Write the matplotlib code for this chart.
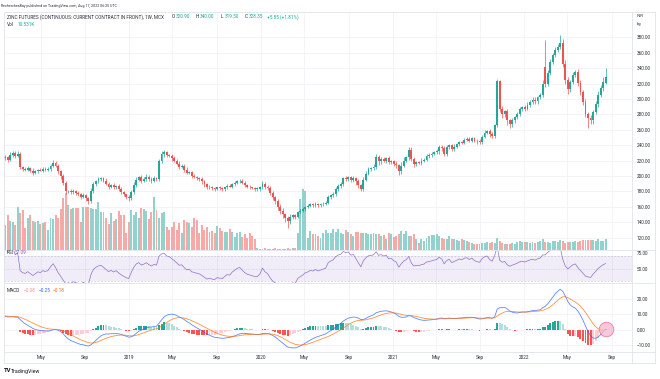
import numpy as np
import pandas as pd
import matplotlib
matplotlib.use("Agg")
import matplotlib.pyplot as plt
import matplotlib.dates as mdates
from matplotlib.lines import Line2D

plt.rcParams['font.family'] = ['Roboto', 'DejaVu Sans']

W, H = 660, 379

# weekly closes, MCX zinc continuous (INR/kg), Jan 2018 .. Aug 2022
closes = [
    224, 221, 227, 230, 226, 229, 212, 209, 208, 210,
    207, 204, 206, 208, 207, 209, 208, 209, 213, 217,
    213, 206, 200, 191, 180, 181, 179, 181, 178, 176,
    173, 175, 171, 168, 180, 189, 193, 196, 197, 194,
    190, 186, 188, 185, 187, 183, 179, 176, 173, 171,
    179, 188, 195, 198, 194, 196, 199, 196, 194, 197,
    196, 219, 228, 231, 227, 226, 223, 220, 216, 212,
    213, 208, 204, 205, 200, 199, 197, 196, 193, 189,
    185, 186, 184, 183, 185, 184, 183, 185, 187, 186,
    189, 191, 193, 194, 191, 188, 186, 185, 184, 183,
    183, 185, 190, 186, 184, 178, 172, 168, 160, 155,
    150, 146, 142, 147, 149, 147, 153, 155, 157, 160,
    161, 163, 162, 164, 162, 163, 164, 165, 172, 175,
    177, 183, 187, 189, 197, 196, 198, 195, 197, 193,
    188, 183, 195, 203, 209, 210, 212, 224, 219, 222,
    220, 223, 218, 219, 216, 214, 206, 213, 220, 224,
    234, 222, 216, 218, 217, 220, 221, 226, 227, 229,
    231, 232, 238, 236, 229, 237, 240, 235, 238, 241,
    244, 243, 247, 248, 246, 249, 246, 245, 244, 251,
    256, 258, 254, 252, 266, 323, 287, 280, 284, 272,
    267, 272, 276, 281, 287, 289, 287, 292, 296, 299,
    297, 302, 305, 320, 320, 334, 348, 357, 364, 368,
    372, 346, 324, 313, 322, 331, 335, 321, 309, 296,
    280, 275, 272, 283, 293, 305, 314, 322.5, 328.35,
]
# weeks where the open gapped away from the previous close
open_gaps = {214: 342.0, 238: 320.90}

wick_up = [
    3, 2, 4, 3, 2, 3, 2, 1, 2, 3,
    2, 3, 2, 1, 2, 2, 3, 2, 2, 4,
    3, 2, 2, 3, 2, 1, 2, 2, 1, 2,
    2, 3, 2, 2, 4, 3, 2, 3, 2, 2,
    3, 2, 2, 3, 1, 2, 2, 2, 1, 2,
    3, 4, 3, 2, 3, 2, 3, 2, 2, 3,
    2, 3, 5, 3, 2, 2, 2, 3, 2, 3,
    2, 2, 3, 2, 2, 2, 1, 2, 2, 2,
    2, 2, 1, 2, 1, 2, 2, 1, 2, 2,
    2, 3, 2, 2, 2, 2, 1, 2, 1, 1,
    2, 2, 3, 2, 2, 3, 2, 2, 2, 4,
    3, 2, 2, 3, 2, 2, 2, 2, 2, 1,
    2, 2, 2, 2, 1, 2, 2, 2, 3, 2,
    2, 3, 2, 3, 2, 3, 2, 2, 3, 2,
    3, 2, 4, 3, 2, 2, 3, 4, 3, 2,
    3, 2, 3, 2, 2, 3, 2, 5, 4, 2,
    4, 3, 2, 2, 2, 3, 2, 2, 3, 2,
    2, 3, 2, 2, 3, 3, 2, 2, 3, 2,
    2, 2, 2, 2, 2, 2, 2, 2, 3, 2,
    3, 2, 3, 3, 2, 3, 2, 4, 2, 3,
    2, 3, 2, 2, 3, 2, 3, 4, 2, 3,
    3, 2, 3, 4, 35, 3, 4, 3, 4, 3,
    11, 6, 5, 4, 3, 4, 3, 4, 3, 3,
    4, 3, 4, 3, 4, 5, 4, 6, 11.65,
]
wick_dn = [
    2, 3, 2, 2, 3, 2, 3, 2, 2, 2,
    2, 3, 2, 2, 1, 2, 2, 2, 2, 2,
    2, 3, 4, 3, 3, 2, 2, 2, 3, 2,
    3, 2, 3, 4, 3, 2, 2, 2, 3, 2,
    2, 3, 2, 2, 2, 3, 2, 2, 3, 4,
    2, 2, 3, 2, 3, 2, 2, 2, 3, 2,
    2, 2, 2, 3, 2, 2, 3, 2, 2, 3,
    2, 3, 2, 2, 3, 2, 2, 2, 3, 3,
    2, 2, 2, 2, 1, 2, 2, 2, 2, 1,
    2, 2, 2, 2, 2, 3, 2, 2, 1, 2,
    2, 2, 2, 3, 2, 3, 3, 4, 4, 5,
    5, 6, 10, 4, 3, 3, 2, 2, 2, 3,
    2, 2, 3, 2, 3, 2, 2, 2, 2, 2,
    2, 3, 2, 3, 2, 3, 2, 3, 3, 5,
    4, 3, 3, 2, 2, 3, 2, 3, 5, 3,
    2, 3, 3, 2, 3, 4, 5, 3, 2, 2,
    3, 3, 4, 3, 2, 3, 2, 2, 3, 2,
    2, 3, 3, 3, 3, 3, 2, 3, 2, 2,
    2, 2, 2, 2, 2, 2, 2, 3, 2, 2,
    2, 2, 3, 3, 3, 3, 4, 5, 4, 6,
    5, 3, 3, 2, 3, 3, 3, 2, 3, 3,
    3, 3, 2, 3, 4, 3, 3, 2, 3, 3,
    3, 4, 4, 7, 4, 3, 3, 4, 4, 4,
    4, 13, 4, 4, 3, 3, 3, 4, 1.4,
]
# volume in thousands
volume_k = [
    25, 35, 29, 28, 25, 43, 37, 40, 22, 32,
    35, 29, 28, 29, 26, 27, 28, 20, 32, 31,
    35, 32, 41, 52, 57, 45, 41, 42, 42, 42,
    28, 43, 43, 43, 42, 41, 41, 48, 38, 38,
    32, 26, 37, 29, 31, 39, 35, 35, 17, 28,
    40, 35, 38, 32, 42, 41, 39, 31, 38, 53,
    40, 32, 37, 38, 23, 20, 23, 28, 20, 27,
    17, 30, 28, 27, 23, 32, 30, 17, 25, 20,
    23, 18, 19, 17, 24, 22, 19, 18, 18, 21,
    18, 13, 17, 18, 13, 16, 12, 17, 14, 11,
    2, 1, 1, 2, 1, 1, 1, 2, 1, 1,
    1, 1, 2, 1, 2, 2, 17, 51, 61, 59,
    12, 19, 16, 16, 14, 12, 17, 20, 17, 17,
    21, 18, 21, 17, 16, 20, 18, 16, 14, 18,
    18, 17, 17, 17, 16, 16, 17, 16, 16, 14,
    15, 11, 17, 16, 13, 14, 16, 19, 16, 19,
    14, 14, 16, 11, 7, 11, 9, 12, 14, 15,
    15, 16, 14, 12, 11, 11, 14, 11, 11, 10,
    9, 11, 10, 9, 8, 7, 6, 6, 6, 7,
    7, 8, 7, 8, 7, 12, 9, 7, 6, 6,
    6, 7, 6, 8, 9, 8, 8, 8, 7, 8,
    7, 8, 9, 11, 8, 8, 7, 9, 9, 8,
    10, 9, 7, 8, 8, 8, 9, 8, 9, 10,
    10, 10, 10, 10, 9, 11, 9, 9, 10.531,
]
# 2017 weekly closes, only used to warm up RSI / MACD
pre_closes = [
    172, 171, 170, 172, 171, 173, 172, 174, 173, 175,
    176, 178, 179, 181, 182, 184, 185, 187, 188, 190,
    191, 193, 194, 196, 197, 199, 200, 202, 203, 205,
    206, 208, 209, 211, 212, 214, 215, 217, 218, 220,
    221, 222, 223, 224, 223,
]

dates = pd.date_range("2018-01-22", periods=len(closes), freq="W-MON")

c = np.array(closes, float)
o = np.r_[pre_closes[-1], c[:-1]]
for k, v in open_gaps.items():
    o[k] = v
hi = np.maximum(o, c) + np.array(wick_up)
lo = np.minimum(o, c) - np.array(wick_dn)
up = c >= o

UP, DN = "#26a69a", "#ef5350"
TXT = "#2a2e39"
LINE = "#e0e3eb"

# ---- indicators ----
npre = len(pre_closes)
s = pd.Series(pre_closes + closes, dtype=float)
d = s.diff()
gain = d.clip(lower=0).ewm(alpha=1/14, adjust=False).mean()
loss = (-d.clip(upper=0)).ewm(alpha=1/14, adjust=False).mean()
rsi = (100 - 100 / (1 + gain / loss)).values[npre:]
macd_full = s.ewm(span=12, adjust=False).mean() - s.ewm(span=26, adjust=False).mean()
sig_full = macd_full.ewm(span=9, adjust=False).mean()
hist_full = (macd_full - sig_full).values
prev = np.r_[hist_full[0], hist_full[:-1]]
hcol_full = np.where(hist_full >= 0,
                     np.where(hist_full > prev, "#26a69a", "#b2dfdb"),
                     np.where(hist_full > prev, "#ffcdd2", "#ff5252"))
macd = macd_full.values[npre:]
sig = sig_full.values[npre:]
hist = hist_full[npre:]
hcol = hcol_full[npre:]

# ---- layout ----
fig = plt.figure(figsize=(W / 100, H / 100), dpi=100)


def box(x0, y0, x1, y1):
    return [x0 / W, 1 - y1 / H, (x1 - x0) / W, (y1 - y0) / H]


ax_bg = fig.add_axes(box(4, 12, 632, 250))
axv = fig.add_axes(box(4, 12, 632, 250), sharex=ax_bg)
ax = fig.add_axes(box(4, 12, 632, 250), sharex=ax_bg, sharey=ax_bg)
ax_rsi = fig.add_axes(box(4, 250, 632, 283), sharex=ax_bg)
ax_macd = fig.add_axes(box(4, 283, 632, 352), sharex=ax_bg)
for a in (axv, ax):
    a.patch.set_visible(False)
    a.axis("off")

for a in (ax_bg, ax_rsi, ax_macd):
    for sp in a.spines.values():
        sp.set_visible(False)
    a.yaxis.tick_right()
    a.tick_params(length=0, labelsize=3.3, labelcolor=TXT, pad=3.6)
    a.grid(True, color="#f0f3fa", lw=0.6)
    a.set_axisbelow(True)

xmin, xmax = pd.Timestamp("2018-01-19"), pd.Timestamp("2022-10-27")
ax_bg.set_xlim(xmin, xmax)
ax_bg.xaxis.set_major_locator(mdates.MonthLocator(bymonth=[1, 5, 9]))
ax_bg.xaxis.set_major_formatter(
    plt.FuncFormatter(lambda v, p: mdates.num2date(v).strftime("%Y" if mdates.num2date(v).month == 1 else "%b")))
ax_bg.tick_params(axis="x", labelbottom=False)
ax_rsi.tick_params(axis="x", labelbottom=False)
ax_macd.tick_params(axis="x", labelbottom=True, pad=2.2, labelsize=3.4)

# price pane
ax_bg.set_ylim(103.8, 412.9)
ax_bg.set_yticks(np.arange(120, 381, 20))
ax_bg.yaxis.set_major_formatter(plt.FormatStrFormatter("%.2f"))

vcol = np.where(up, "#92d2cc", "#f7a9a7")
axv.bar(dates, volume_k, width=5.4, color=vcol, lw=0)
axv.set_ylim(0, 238)

ccol = np.where(up, UP, DN)
ax.vlines(dates, lo, hi, colors=ccol, lw=0.5)
ax.bar(dates, np.maximum(np.abs(c - o), 0.9), bottom=np.minimum(o, c),
       width=5.2, color=ccol, lw=0)

# RSI pane
ax_rsi.set_ylim(26.2, 80.7)
ax_rsi.set_yticks([50, 75])
ax_rsi.yaxis.set_major_formatter(plt.FormatStrFormatter("%.2f"))
ax_rsi.axhspan(30, 70, color="#7e57c2", alpha=0.1, lw=0)
for lvl, ls in ((70, (0, (3, 3))), (50, (0, (1, 2))), (30, (0, (3, 3)))):
    ax_rsi.axhline(lvl, color="#787b86", lw=0.4, ls=ls, alpha=0.5)
ax_rsi.plot(dates, rsi, color="#7e57c2", lw=0.5, alpha=0.85)
ax_rsi.grid(False, axis="y")

# MACD pane
ax_macd.set_ylim(-14.4, 30.1)
ax_macd.set_yticks([-10, 0, 10, 20])
ax_macd.yaxis.set_major_formatter(plt.FuncFormatter(lambda v, p: f"{v:.2f}".replace("-", "\u2212")))
ax_macd.bar(dates, hist, width=5.4, color=hcol, lw=0)
ax_macd.plot(dates, macd, color="#2962ff", lw=0.6, alpha=0.75)
ax_macd.plot(dates, sig, color="#ff6d00", lw=0.6, alpha=0.75)
ax_macd.scatter([dates[-1]], [macd[-1]], s=110, facecolor="#f8bbd0", edgecolor="#f06292",
                lw=0.6, alpha=0.8, zorder=5)

# frame and separators
def hline(y, x0=4, x1=655):
    fig.add_artist(Line2D([x0 / W, x1 / W], [1 - y / H] * 2, color=LINE, lw=0.6))


def vline(x, y0=12, y1=363):
    fig.add_artist(Line2D([x / W] * 2, [1 - y0 / H, 1 - y1 / H], color=LINE, lw=0.6))


for y in (12, 250, 283, 352, 363):
    hline(y)
for x in (4, 632, 655):
    vline(x)

# texts
def t(x, y, s, color=TXT, size=3.4, **kw):
    fig.text(x / W, 1 - y / H, s, color=color, fontsize=size, ha="left", va="center", **kw)


t(1, 6, "RecherchesBay published on TradingView.com, Aug 17, 2022 06:25 UTC", size=2.6)
t(7.3, 16.8, "ZINC FUTURES (CONTINUOUS: CURRENT CONTRACT IN FRONT), 1W, MCX")
for x, lab, val in ((172, "O", "320.90"), (196, "H", "340.00"), (221, "L", "319.50"), (245, "C", "328.35")):
    t(x, 16.8, lab)
    t(x + 3.3, 16.8, val, color=UP)
t(267, 16.8, "+5.85 (+1.81%)", color=UP)
t(7.3, 24.4, "Vol")
t(18, 24.4, "10.531K", color=UP)
t(637, 15.7, "INR", size=3.2)
t(637, 24.3, "kg", size=3.2)
t(7, 252.8, "RSI")
t(15, 252.8, "57.09", color="#7e57c2")
t(7, 291, "MACD")
t(23.5, 291, "\u22120.08", color="#ef9a9a")
t(38.5, 291, "\u22120.25", color="#2962ff")
t(53, 291, "\u22120.18", color="#ff6d00")
t(4, 371, "TV", size=4.2, weight="bold", color="#131722")
t(11, 371, "TradingView", size=3.8, color="#131722")

fig.savefig("out.png", dpi=100)
